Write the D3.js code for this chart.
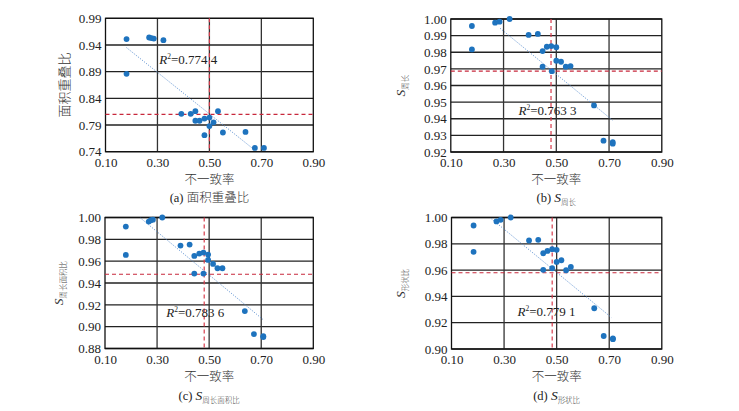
<!DOCTYPE html>
<html><head><meta charset="utf-8">
<script src="https://cdn.jsdelivr.net/npm/d3@7"></script>
<style>body{margin:0;background:#fff}svg{display:block}
.serif{font-family:"Liberation Serif","Times New Roman","DejaVu Serif",serif}
.cjk{font-family:"Noto Sans CJK SC","Noto Sans",sans-serif;font-weight:300}
</style>
</head><body>
<svg id="c" width="739" height="411"></svg>
<script>
// ---- data ----
const xTicks = [0.10, 0.30, 0.50, 0.70, 0.90];
const xGrid = [0.30, 0.50, 0.70];

const xA = [0.181,0.181,0.268,0.277,0.286,0.323,0.392,0.428,0.446,0.446,0.462,0.481,0.500,0.500,0.516,0.533,0.481,0.552,0.639,0.675,0.710];
const yA = [0.951,0.886,0.954,0.953,0.952,0.949,0.811,0.811,0.816,0.798,0.798,0.802,0.804,0.788,0.795,0.816,0.771,0.776,0.777,0.747,0.747];
const yTicksA = [0.74,0.79,0.84,0.89,0.94,0.99];

const xB = [0.18,0.18,0.268,0.285,0.323,0.395,0.430,0.448,0.464,0.481,0.50,0.448,0.483,0.50,0.518,0.536,0.554,0.643,0.679,0.714,0.714];
const yB = [0.9958,0.9817,0.9978,0.9984,1.000,0.9904,0.991,0.9807,0.9833,0.9837,0.983,0.9713,0.9686,0.9749,0.9743,0.9713,0.9717,0.948,0.9268,0.926,0.925];
const yTicksB = [0.92,0.93,0.94,0.95,0.96,0.97,0.98,0.99,1.00];

const xC = [0.18,0.18,0.268,0.276,0.284,0.32,0.39,0.425,0.443,0.462,0.478,0.496,0.496,0.515,0.532,0.551,0.443,0.478,0.637,0.672,0.708,0.708];
const yC = [0.9917,0.9657,0.9963,0.9975,0.998,1.000,0.9743,0.9752,0.9648,0.9669,0.9679,0.966,0.9611,0.9575,0.9535,0.9535,0.9486,0.9486,0.9143,0.8932,0.8913,0.8905];
const yTicksC = [0.88,0.90,0.92,0.94,0.96,0.98,1.00];

const xD = [0.184,0.184,0.271,0.287,0.325,0.395,0.430,0.449,0.465,0.483,0.50,0.50,0.518,0.536,0.554,0.449,0.483,0.643,0.679,0.714,0.714];
const yD = [0.9939,0.9739,0.997,0.9982,1.000,0.9825,0.983,0.9728,0.9746,0.9759,0.9754,0.9662,0.9675,0.9599,0.9624,0.9602,0.9614,0.931,0.9099,0.9081,0.9075];
const yTicksD = [0.90,0.92,0.94,0.96,0.98,1.00];

// threshold lines [x, y]
const thrA = [0.50, 0.81];
const thrB = [0.48, 0.9686];
const thrC = [0.481, 0.948];
const thrD = [0.483, 0.958];

// trend line endpoints [x0,y0,x1,y1]
const trendA = [0.181,0.935,0.677,0.742];
const trendB = [0.287,0.9944,0.714,0.939];
const trendC = [0.237,0.9994,0.708,0.9063];
const trendD = [0.252,0.999,0.708,0.924];

// R² labels [x, y, text]
const r2A = [0.307, 0.904, "0.774 4"];
const r2B = [0.357, 0.9423, "0.763 3"];
const r2C = [0.335, 0.909, "0.783 6"];
const r2D = [0.351, 0.9253, "0.779 1"];

const xTitle = "不一致率";

const panels = [
  {xs:xA, ys:yA, yt:yTicksA, dom:[0.74,0.99], thr:thrA, tr:trendA, r2:r2A, L:105.5, R:313.3, T:18.3, B:151.7,
   ylab:{main:"面积重叠比"}, cap:{pre:"(a) ", main:"面积重叠比"}, ylx:65, capY:202},
  {xs:xB, ys:yB, yt:yTicksB, dom:[0.92,1.00], thr:thrB, tr:trendB, r2:r2B, L:450.8, R:661.8, T:19, B:152,
   ylab:{S:true, sub:"周长"}, cap:{pre:"(b) ", S:true, sub:"周长"}, ylx:405, capY:202},
  {xs:xC, ys:yC, yt:yTicksC, dom:[0.88,1.00], thr:thrC, tr:trendC, r2:r2C, L:105, R:313.3, T:217.5, B:348.5,
   ylab:{S:true, sub:"周长面积比"}, cap:{pre:"(c) ", S:true, sub:"周长面积比"}, ylx:63, capY:400},
  {xs:xD, ys:yD, yt:yTicksD, dom:[0.90,1.00], thr:thrD, tr:trendD, r2:r2D, L:451.5, R:661.8, T:217.5, B:349,
   ylab:{S:true, sub:"形状比"}, cap:{pre:"(d) ", S:true, sub:"形状比"}, ylx:405, capY:400}
];

const svg = d3.select("#c");
const blue = "#1e73be";

panels.forEach((p, i) => {
  const x = d3.scaleLinear().domain([0.10,0.90]).range([p.L,p.R]);
  const y = d3.scaleLinear().domain(p.dom).range([p.B,p.T]);
  const g = svg.append("g");

  g.selectAll(".hg").data(p.yt).join("line")
    .attr("x1",p.L).attr("x2",p.R).attr("y1",d=>y(d)).attr("y2",d=>y(d))
    .attr("stroke","#222").attr("stroke-width",1.3);
  g.selectAll(".vg").data(xGrid).join("line")
    .attr("y1",p.T).attr("y2",p.B).attr("x1",d=>x(d)).attr("x2",d=>x(d))
    .attr("stroke","#333").attr("stroke-width",1.3);
  g.append("rect").attr("x",p.L).attr("y",p.T).attr("width",p.R-p.L).attr("height",p.B-p.T)
    .attr("fill","none").attr("stroke","#111").attr("stroke-width",1.3);

  const xa = d3.axisBottom(x).tickValues(xTicks).tickFormat(d3.format(".2f")).tickSize(0).tickPadding(6);
  const gx = g.append("g").attr("transform",`translate(0,${p.B})`).call(xa);
  gx.attr("font-family",null).attr("font-size",null);
  gx.select(".domain").remove();
  gx.selectAll("text").attr("class","serif").style("font-size","13px").attr("fill","#222");
  const ya = d3.axisLeft(y).tickValues(p.yt).tickFormat(d3.format(".2f")).tickSize(0).tickPadding(4);
  const gy = g.append("g").attr("transform",`translate(${p.L},0)`).call(ya);
  gy.attr("font-family",null).attr("font-size",null);
  gy.select(".domain").remove();
  gy.selectAll("text").attr("class","serif").style("font-size","13px").attr("fill","#222");

  g.append("line").attr("x1",p.L).attr("x2",p.R).attr("y1",y(p.thr[1])).attr("y2",y(p.thr[1]))
    .attr("stroke","#c8283c").attr("stroke-width",1.2).attr("stroke-dasharray","4,3");
  g.append("line").attr("x1",x(p.thr[0])).attr("x2",x(p.thr[0])).attr("y1",p.T).attr("y2",p.B)
    .attr("stroke","#d83c4c").attr("stroke-width",1.2).attr("stroke-dasharray","4,3");

  g.append("line").attr("x1",x(p.tr[0])).attr("y1",y(p.tr[1])).attr("x2",x(p.tr[2])).attr("y2",y(p.tr[3]))
    .attr("stroke","#5b8fd0").attr("stroke-width",1).attr("stroke-dasharray","1,1.5");

  g.selectAll("circle").data(d3.range(p.xs.length)).join("circle")
    .attr("cx",k=>x(p.xs[k])).attr("cy",k=>y(p.ys[k])).attr("r",2.9).attr("fill",blue);

  const t = g.append("text").attr("class","serif").attr("x",x(p.r2[0])).attr("y",y(p.r2[1]))
    .style("font-size","13px").attr("fill","#222");
  t.append("tspan").attr("font-style","italic").text("R");
  t.append("tspan").style("font-size","7.5px").attr("dy",-5).text("2");
  t.append("tspan").attr("dy",5).text("=" + p.r2[2]);

  g.append("text").attr("class","cjk").attr("x",(p.L+p.R)/2).attr("y",p.B+32).attr("text-anchor","middle")
    .style("font-size","12.5px").attr("fill","#333").text(xTitle);

  const cx = (p.L+p.R)/2;
  const c = g.append("text").attr("x",cx).attr("y",p.capY).attr("text-anchor","middle")
    .style("font-size","12.5px").attr("fill","#222");
  c.append("tspan").attr("class","serif").text(p.cap.pre);
  if (p.cap.S) {
    c.append("tspan").attr("class","serif").attr("font-style","italic").style("font-size","13.5px").text("S");
    c.append("tspan").attr("class","cjk").style("font-size","7.5px").attr("dy",3).attr("fill","#444").text(p.cap.sub);
  } else {
    c.append("tspan").attr("class","cjk").attr("fill","#333").text(p.cap.main);
  }

  const cy = (p.T+p.B)/2;
  const yl = g.append("text").attr("transform",`translate(${p.ylx},${cy}) rotate(-90)`)
    .attr("text-anchor","middle").style("font-size","12px").attr("fill","#333");
  if (p.ylab.S) {
    yl.append("tspan").attr("class","serif").attr("font-style","italic").style("font-size","13.5px").text("S");
    yl.append("tspan").attr("class","cjk").style("font-size","7.5px").attr("dy",3).attr("fill","#444").text(p.ylab.sub);
  } else {
    yl.attr("class","cjk").style("font-size","13px").attr("dy",4).text(p.ylab.main);
  }
});
</script>
</body></html>
